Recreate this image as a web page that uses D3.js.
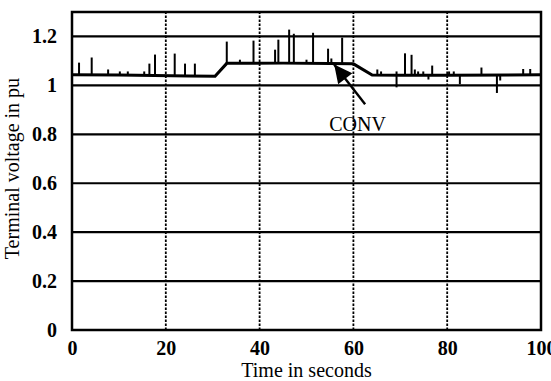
<!DOCTYPE html>
<html>
<head>
<meta charset="utf-8">
<script src="https://cdn.jsdelivr.net/npm/d3@7/dist/d3.min.js"></script>
<style>
body { margin: 0; background: #fff; }
text { font-family: "Liberation Serif", "Times New Roman", serif; fill: #000; }
</style>
</head>
<body>
<script>
// slow-moving level of the terminal voltage (pu)
const baseTimes  = [0, 10, 25, 30.5, 33, 45, 55, 60, 64, 70, 80, 100];
const baseValues = [1.043, 1.042, 1.038, 1.037, 1.09, 1.091, 1.089, 1.088, 1.042, 1.041, 1.041, 1.043];

// short switching spikes: time (s) and peak value (pu)
const spikeTimes = [1.5, 4.2, 7.7, 10.2, 11.9, 15.4, 16.5, 17.7, 21.9, 24.1, 26.2,
                    33.0, 35.8, 38.7, 43.3, 44.0, 46.3, 47.3, 50.0, 51.4, 54.6, 55.3, 57.6,
                    65.1, 65.9, 69.2, 69.2, 71.0, 72.4, 73.1, 73.8, 74.9, 76.0, 76.8,
                    80.4, 81.4, 82.7, 87.3, 90.6, 91.3, 96.2, 97.7];
const spikePeaks = [1.093, 1.114, 1.065, 1.057, 1.057, 1.057, 1.089, 1.126, 1.130, 1.089, 1.089,
                    1.179, 1.105, 1.183, 1.146, 1.187, 1.228, 1.211, 1.105, 1.215, 1.150, 1.11, 1.195,
                    1.065, 1.057, 1.057, 0.992, 1.131, 1.125, 1.065, 1.057, 1.057, 1.024, 1.081,
                    1.057, 1.057, 1.005, 1.073, 0.969, 1.02, 1.067, 1.067];

const xTicks = [0, 20, 40, 60, 80, 100];
const yTicks = [0, 0.2, 0.4, 0.6, 0.8, 1, 1.2];

function init() {
    const w = 551, h = 381;
    const margin = {left: 72, right: 10, top: 12, bottom: 51};

    const svg = d3.select("body").append("svg")
        .attr("width", w)
        .attr("height", h);

    const x = d3.scaleLinear().domain([0, 100]).range([margin.left, w - margin.right]);
    const y = d3.scaleLinear().domain([0, 1.3]).range([h - margin.bottom, margin.top]);
    const baseAt = d3.scaleLinear().domain(baseTimes).range(baseValues);

    // grid
    svg.append("g")
        .selectAll("line")
        .data(yTicks.filter(d => d > 0))
        .enter().append("line")
            .attr("x1", x(0)).attr("x2", x(100))
            .attr("y1", d => y(d)).attr("y2", d => y(d))
            .attr("stroke", "#000").attr("stroke-width", 2.2);
    svg.append("g")
        .selectAll("line")
        .data(xTicks.filter(d => d > 0 && d < 100))
        .enter().append("line")
            .attr("x1", d => x(d)).attr("x2", d => x(d))
            .attr("y1", y(0)).attr("y2", y(1.3))
            .attr("stroke", "#000").attr("stroke-width", 1.8)
            .attr("stroke-dasharray", "2.5,1.5");

    // axes
    const xAxis = d3.axisBottom(x).tickValues(xTicks).tickSize(0).tickPadding(11);
    const yAxis = d3.axisLeft(y).tickValues(yTicks).tickSize(0).tickPadding(15)
        .tickFormat(d => d === 0 || d === 1 ? d : d3.format(".1f")(d));
    svg.append("g")
        .attr("transform", "translate(0," + y(0) + ")")
        .call(xAxis)
        .call(g => g.select(".domain").remove())
        .selectAll("text")
            .style("font-size", "20px").style("font-weight", "bold")
            .style("font-family", "'Liberation Serif', serif");
    svg.append("g")
        .attr("transform", "translate(" + x(0) + ",0)")
        .call(yAxis)
        .call(g => g.select(".domain").remove())
        .selectAll("text")
            .style("font-size", "20px").style("font-weight", "bold")
            .style("font-family", "'Liberation Serif', serif");

    // frame
    svg.append("rect")
        .attr("x", x(0)).attr("y", y(1.3))
        .attr("width", x(100) - x(0)).attr("height", y(0) - y(1.3))
        .attr("fill", "none").attr("stroke", "#000").attr("stroke-width", 2.5);

    // spikes
    svg.append("g")
        .selectAll("line")
        .data(spikeTimes.map((t, i) => [t, spikePeaks[i]]))
        .enter().append("line")
            .attr("x1", d => x(d[0])).attr("x2", d => x(d[0]))
            .attr("y1", d => y(baseAt(d[0]))).attr("y2", d => y(d[1]))
            .attr("stroke", "#000").attr("stroke-width", 2);

    // base level
    const line = d3.line().x(d => x(d[0])).y(d => y(d[1]));
    svg.append("path")
        .datum(baseTimes.map((t, i) => [t, baseValues[i]]))
        .attr("d", line)
        .attr("fill", "none").attr("stroke", "#000").attr("stroke-width", 3);

    // annotation arrow
    const tip = [55.9, 1.085], tail = [62.5, 0.923];
    svg.append("defs").append("marker")
        .attr("id", "head").attr("viewBox", "0 0 10 10")
        .attr("refX", 10).attr("refY", 5)
        .attr("markerWidth", 9).attr("markerHeight", 7.5)
        .attr("markerUnits", "strokeWidth")
        .attr("orient", "auto")
        .append("path").attr("d", "M0,0L10,5L0,10Z").attr("fill", "#000");
    svg.append("line")
        .attr("x1", x(tail[0])).attr("y1", y(tail[1]))
        .attr("x2", x(tip[0])).attr("y2", y(tip[1]))
        .attr("stroke", "#000").attr("stroke-width", 2.4)
        .attr("marker-end", "url(#head)");
    svg.append("text")
        .attr("x", x(60.9)).attr("y", y(0.815))
        .attr("text-anchor", "middle")
        .style("font-size", "20px")
        .text("CONV");

    // titles
    svg.append("text")
        .attr("x", x(50)).attr("y", h - 4)
        .attr("text-anchor", "middle")
        .style("font-size", "20px")
        .text("Time in seconds");
    svg.append("text")
        .attr("transform", "translate(19," + y(0.66) + ") rotate(-90)")
        .attr("text-anchor", "middle")
        .style("font-size", "20px")
        .text("Terminal voltage in pu");
}

window.onload = init;
</script>
</body>
</html>
